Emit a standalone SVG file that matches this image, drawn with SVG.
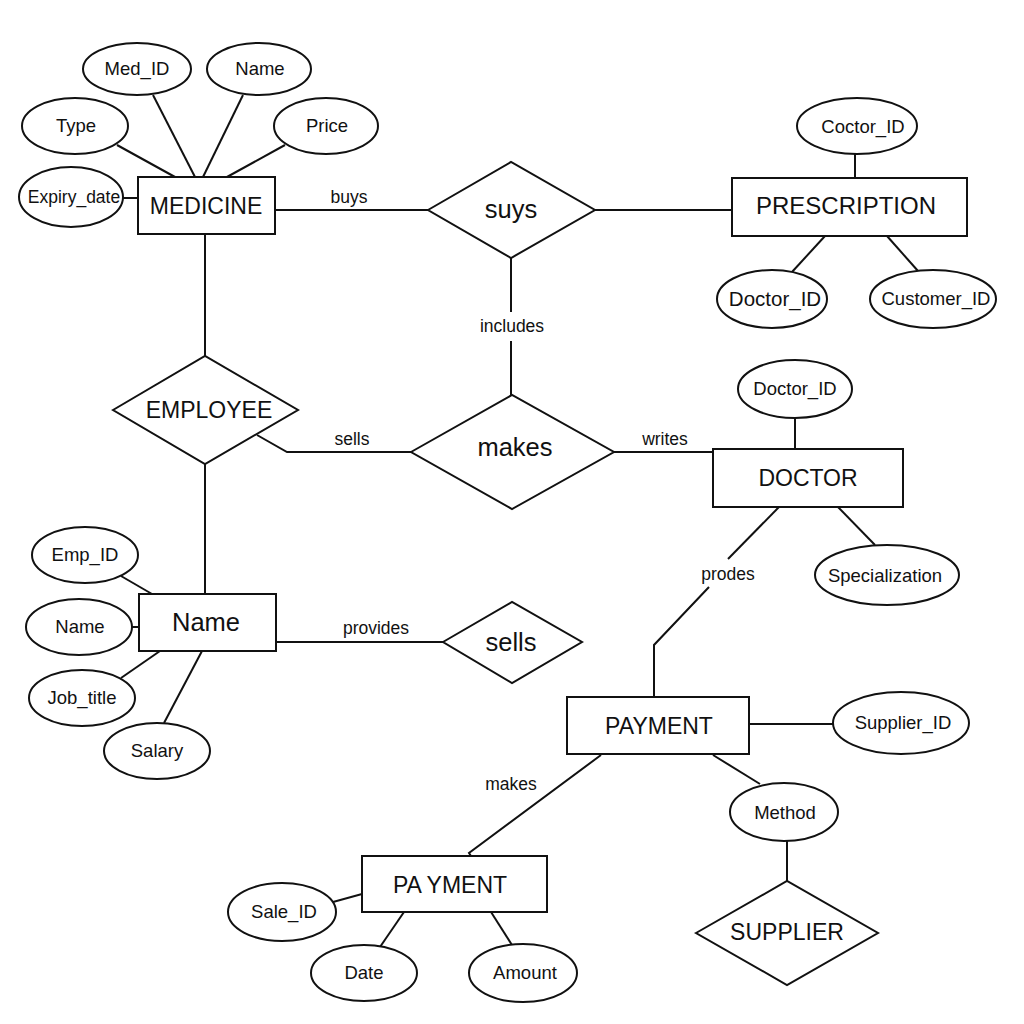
<svg xmlns="http://www.w3.org/2000/svg" width="1024" height="1024" viewBox="0 0 1024 1024">
<style>
.ent{fill:#fff;stroke:#111;stroke-width:2}
.att{fill:#fff;stroke:#111;stroke-width:2}
.rel{fill:#fff;stroke:#111;stroke-width:2}
.ln{fill:none;stroke:#111;stroke-width:2}
text{font-family:"Liberation Sans",Arial,sans-serif;fill:#111;text-anchor:middle}
.te{font-size:23px}
.tr{font-size:25.5px}
.ta{font-size:18.5px}
.tl{font-size:17.5px}
</style>
<rect width="1024" height="1024" fill="#fff"/>
<g id="connectors">
<line class="ln" x1="153" y1="95" x2="195" y2="177"/>
<line class="ln" x1="243" y1="95" x2="203" y2="177"/>
<line class="ln" x1="117" y1="145" x2="175" y2="177"/>
<line class="ln" x1="285" y1="145" x2="227" y2="177"/>
<line class="ln" x1="123" y1="198" x2="138" y2="198"/>
<line class="ln" x1="275" y1="210" x2="428" y2="210"/>
<line class="ln" x1="595" y1="210" x2="732" y2="210"/>
<line class="ln" x1="855" y1="154" x2="855" y2="178"/>
<line class="ln" x1="825" y1="236" x2="792" y2="272"/>
<line class="ln" x1="887" y1="236" x2="918" y2="271"/>
<line class="ln" x1="205" y1="234" x2="205" y2="356"/>
<line class="ln" x1="511" y1="258" x2="511" y2="312"/>
<line class="ln" x1="511" y1="341" x2="511" y2="395"/>
<polyline class="ln" points="257,435 287,452 411,452"/>
<line class="ln" x1="614" y1="452" x2="713" y2="452"/>
<line class="ln" x1="795" y1="418" x2="795" y2="449"/>
<line class="ln" x1="779" y1="507" x2="728" y2="559"/>
<polyline class="ln" points="709,587 654,645 654,697"/>
<line class="ln" x1="838" y1="507" x2="875" y2="545"/>
<line class="ln" x1="205" y1="464" x2="205" y2="594"/>
<line class="ln" x1="121" y1="576" x2="152" y2="594"/>
<line class="ln" x1="131" y1="627" x2="139" y2="627"/>
<line class="ln" x1="121" y1="678" x2="160" y2="651"/>
<line class="ln" x1="164" y1="723" x2="202" y2="651"/>
<line class="ln" x1="276" y1="642" x2="443" y2="642"/>
<line class="ln" x1="749" y1="724" x2="833" y2="724"/>
<polyline class="ln" points="601,755 469,853 471,856"/>
<line class="ln" x1="713" y1="755" x2="760" y2="784"/>
<line class="ln" x1="787" y1="841" x2="787" y2="881"/>
<line class="ln" x1="333" y1="902" x2="362" y2="894"/>
<line class="ln" x1="404" y1="912" x2="380" y2="947"/>
<line class="ln" x1="491" y1="912" x2="512" y2="945"/>
<text class="tl" x="349" y="203">buys</text>
<text class="tl" x="512" y="332">includes</text>
<text class="tl" x="352" y="445">sells</text>
<text class="tl" x="665" y="445">writes</text>
<text class="tl" x="728" y="580">prodes</text>
<text class="tl" x="376" y="634">provides</text>
<text class="tl" x="511" y="790">makes</text>
</g>
<g id="medicine"><rect class="ent" x="138" y="177" width="137" height="57"/><text class="te" x="206" y="214">MEDICINE</text></g>
<g id="med_id"><ellipse class="att" cx="137" cy="69" rx="54" ry="26"/><text class="ta" x="137" y="75">Med_ID</text></g>
<g id="med_name"><ellipse class="att" cx="259" cy="69" rx="52" ry="26"/><text class="ta" x="260" y="75">Name</text></g>
<g id="type"><ellipse class="att" cx="75" cy="126" rx="53" ry="28"/><text class="ta" x="76" y="132">Type</text></g>
<g id="price"><ellipse class="att" cx="326" cy="126" rx="52" ry="28"/><text class="ta" x="327" y="132">Price</text></g>
<g id="expiry_date"><ellipse class="att" cx="71" cy="197" rx="52" ry="30"/><text class="ta" x="74" y="203" style="font-size:17.5px">Expiry_date</text></g>
<g id="suys"><polygon class="rel" points="428,210 511,162 595,210 511,258"/><text class="tr" x="511" y="218">suys</text></g>
<g id="prescription"><rect class="ent" x="732" y="178" width="235" height="58"/><text class="te" x="846" y="214" style="font-size:24px">PRESCRIPTION</text></g>
<g id="coctor_id"><ellipse class="att" cx="857" cy="126" rx="60" ry="28"/><text class="ta" x="863" y="133">Coctor_ID</text></g>
<g id="presc_doctor_id"><ellipse class="att" cx="772" cy="299" rx="55" ry="29"/><text class="ta" x="775" y="306" style="font-size:20.5px">Doctor_ID</text></g>
<g id="customer_id"><ellipse class="att" cx="933" cy="299" rx="63" ry="29"/><text class="ta" x="936" y="305">Customer_ID</text></g>
<g id="employee"><polygon class="rel" points="113,410 205,356 298,410 205,464"/><text class="te" x="209" y="418">EMPLOYEE</text></g>
<g id="makes"><polygon class="rel" points="411,452 512,395 614,452 512,509"/><text class="tr" x="515" y="456">makes</text></g>
<g id="doctor"><rect class="ent" x="713" y="449" width="190" height="58"/><text class="te" x="808" y="486">DOCTOR</text></g>
<g id="doctor_id"><ellipse class="att" cx="795" cy="389" rx="57" ry="29"/><text class="ta" x="795" y="395">Doctor_ID</text></g>
<g id="specialization"><ellipse class="att" cx="887" cy="575" rx="72" ry="30"/><text class="ta" x="885" y="582">Specialization</text></g>
<g id="name_entity"><rect class="ent" x="139" y="594" width="137" height="57"/><text class="tr" x="206" y="631">Name</text></g>
<g id="emp_id"><ellipse class="att" cx="85" cy="555" rx="53" ry="28"/><text class="ta" x="85" y="561">Emp_ID</text></g>
<g id="emp_name"><ellipse class="att" cx="79" cy="627" rx="53" ry="28"/><text class="ta" x="80" y="633">Name</text></g>
<g id="job_title"><ellipse class="att" cx="82" cy="698" rx="53" ry="28"/><text class="ta" x="82" y="704">Job_title</text></g>
<g id="salary"><ellipse class="att" cx="157" cy="751" rx="53" ry="28"/><text class="ta" x="157" y="757">Salary</text></g>
<g id="sells"><polygon class="rel" points="443,642 512,602 582,642 512,683"/><text class="tr" x="511" y="651">sells</text></g>
<g id="payment"><rect class="ent" x="567" y="697" width="182" height="57"/><text class="te" x="659" y="734">PAYMENT</text></g>
<g id="supplier_id"><ellipse class="att" cx="901" cy="723" rx="68" ry="31"/><text class="ta" x="903" y="729">Supplier_ID</text></g>
<g id="method"><ellipse class="att" cx="784" cy="812" rx="54" ry="29"/><text class="ta" x="785" y="819">Method</text></g>
<g id="supplier"><polygon class="rel" points="696,933 787,881 878,933 787,985"/><text class="te" x="787" y="940">SUPPLIER</text></g>
<g id="pa_yment"><rect class="ent" x="362" y="856" width="185" height="56"/><text class="te" x="450" y="893">PA YMENT</text></g>
<g id="sale_id"><ellipse class="att" cx="282" cy="912" rx="54" ry="29"/><text class="ta" x="284" y="918">Sale_ID</text></g>
<g id="date"><ellipse class="att" cx="364" cy="973" rx="53" ry="28"/><text class="ta" x="364" y="979">Date</text></g>
<g id="amount"><ellipse class="att" cx="523" cy="973" rx="54" ry="29"/><text class="ta" x="525" y="979">Amount</text></g>
</svg>
